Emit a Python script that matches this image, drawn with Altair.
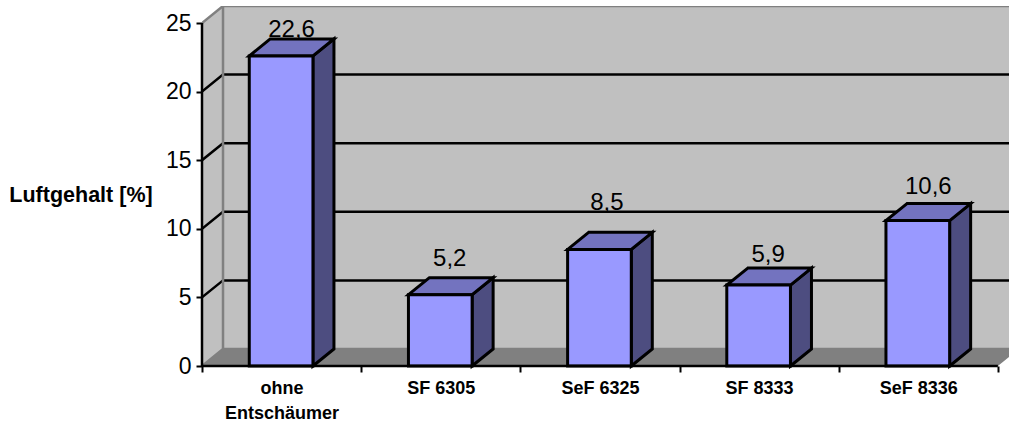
import altair as alt
import pandas as pd

# Measurements per defoamer
categories = ["ohne|Entschäumer", "SF 6305", "SeF 6325", "SF 8333", "SeF 8336"]
values = [22.6, 5.2, 8.5, 5.9, 10.6]
y_ticks = [0, 5, 10, 15, 20, 25]
x_ticks = [0, 1, 2, 3, 4, 5]

# Pseudo-3D projection, expressed in scale units
DEPTH_X = 0.132
DEPTH_Y = 1.24
BAR_LEFT = 0.297
BAR_WIDTH = 0.40
X_MAX = 5.07
X_OVER = 5.2
Y_MAX = 26.24

# Per-label pixel nudges so the numbers clear the bars
LABEL_DX = [0, -1, -3, -1, 0]
LABEL_DY = [-2, -12, -22, -6, -10]

x_scale = alt.Scale(domain=[0, X_MAX], nice=False, zero=False)
y_scale = alt.Scale(domain=[0, Y_MAX], nice=False, zero=False)
X = alt.X("x:Q", scale=x_scale, axis=None)
Y = alt.Y("y:Q", scale=y_scale, axis=None)

# Side wall and back wall
walls = pd.DataFrame(
    [
        {"x": 0, "y": 0, "y2": 25},
        {"x": DEPTH_X, "y": DEPTH_Y, "y2": 25 + DEPTH_Y},
        {"x": X_MAX, "y": DEPTH_Y, "y2": 25 + DEPTH_Y},
    ]
)
wall_layer = (
    alt.Chart(walls)
    .mark_area(color="#C0C0C0", clip=True)
    .encode(x=X, y=Y, y2="y2:Q")
)

# Floor
floor = pd.DataFrame(
    [
        {"y": 0, "x": 0, "x2": 5},
        {"y": DEPTH_Y, "x": DEPTH_X, "x2": 5 + DEPTH_X},
    ]
)
floor_layer = (
    alt.Chart(floor)
    .mark_area(color="#808080", orient="horizontal", clip=True)
    .encode(x=X, x2="x2:Q", y=Y)
)

# Grid lines run up the side wall and along the back wall
grid_rows = []
for v in y_ticks[1:-1]:
    grid_rows += [
        {"v": v, "x": 0, "y": v},
        {"v": v, "x": DEPTH_X, "y": v + DEPTH_Y},
        {"v": v, "x": X_OVER, "y": v + DEPTH_Y},
    ]
grid_layer = (
    alt.Chart(pd.DataFrame(grid_rows))
    .mark_line(color="black", strokeWidth=2.5, clip=True)
    .encode(x=X, y=Y, detail="v:N")
)

# Grey wall edges
edges = pd.DataFrame(
    [
        {"e": "a", "k": 0, "x": 0, "y": 25},
        {"e": "a", "k": 1, "x": DEPTH_X, "y": 25 + DEPTH_Y},
        {"e": "a", "k": 2, "x": X_OVER, "y": 25 + DEPTH_Y},
        {"e": "b", "k": 0, "x": DEPTH_X, "y": 25 + DEPTH_Y},
        {"e": "b", "k": 1, "x": DEPTH_X, "y": DEPTH_Y},
        {"e": "b", "k": 2, "x": 0, "y": 0},
        {"e": "c", "k": 0, "x": DEPTH_X, "y": DEPTH_Y},
        {"e": "c", "k": 1, "x": X_OVER, "y": DEPTH_Y},
    ]
)
edge_layer = (
    alt.Chart(edges)
    .mark_line(color="#808080", strokeWidth=2.5, clip=True)
    .encode(x=X, y=Y, detail="e:N", order="k:Q")
)

# Value labels, in the German number format
label_layers = [
    alt.Chart(
        pd.DataFrame(
            {
                "x": [i + BAR_LEFT + BAR_WIDTH / 2 + DEPTH_X / 2],
                "y": [v + DEPTH_Y],
                "t": [f"{v:.1f}".replace(".", ",")],
            }
        )
    )
    .mark_text(
        font="Liberation Sans",
        fontSize=24,
        color="black",
        baseline="alphabetic",
        dx=LABEL_DX[i],
        dy=LABEL_DY[i],
    )
    .encode(x=X, y=Y, text="t:N")
    for i, v in enumerate(values)
]

# Bars: front, side and top faces
front_rows, side_rows, top_rows = [], [], []
for i, v in enumerate(values):
    left = i + BAR_LEFT
    right = left + BAR_WIDTH
    front_rows.append({"x": left, "x2": right, "y": 0, "y2": v})
    side_rows += [
        {"i": i, "x": right, "y": 0, "y2": v},
        {"i": i, "x": right + DEPTH_X, "y": DEPTH_Y, "y2": v + DEPTH_Y},
    ]
    top_rows += [
        {"i": i, "y": v, "x": left, "x2": right},
        {"i": i, "y": v + DEPTH_Y, "x": left + DEPTH_X, "x2": right + DEPTH_X},
    ]
outline = {"stroke": "black", "strokeWidth": 3, "strokeJoin": "miter"}
side_layer = (
    alt.Chart(pd.DataFrame(side_rows))
    .mark_area(color="#4D4D80", **outline)
    .encode(x=X, y=Y, y2="y2:Q", detail="i:N")
)
top_layer = (
    alt.Chart(pd.DataFrame(top_rows))
    .mark_area(color="#7373BF", orient="horizontal", **outline)
    .encode(x=X, x2="x2:Q", y=Y, detail="i:N")
)
front_layer = (
    alt.Chart(pd.DataFrame(front_rows))
    .mark_rect(color="#9999FF", **outline)
    .encode(x=X, x2="x2:Q", y=Y, y2="y2:Q")
)

# Black axis lines
axis_lines = pd.DataFrame(
    [
        {"a": "y", "x": 0, "y": 0},
        {"a": "y", "x": 0, "y": 25},
        {"a": "x", "x": 0, "y": 0},
        {"a": "x", "x": 5, "y": 0},
    ]
)
axis_line_layer = (
    alt.Chart(axis_lines)
    .mark_line(color="black", strokeWidth=2.5)
    .encode(x=X, y=Y, detail="a:N")
)

# Axes: ticks and numeric labels on y, ticks on x, category names below
names = ",".join(f"'{c}'" for c in categories)
label_expr = f"split([{names}][floor(datum.value)], '|')"
axis_layer = (
    alt.Chart(pd.DataFrame({"x": [0], "y": [0]}))
    .mark_point(opacity=0)
    .encode(
        x=alt.X(
            "x:Q",
            scale=x_scale,
            axis=alt.Axis(
                orient="bottom",
                values=x_ticks,
                labels=False,
                domain=False,
                grid=False,
                title=None,
                tickColor="black",
                tickWidth=2,
                tickSize=6,
            ),
        ),
        y=alt.Y(
            "y:Q",
            scale=y_scale,
            axis=alt.Axis(
                orient="left",
                values=y_ticks,
                domain=False,
                grid=False,
                tickColor="black",
                tickWidth=2,
                tickSize=6,
                labelFont="Liberation Sans",
                labelFontSize=23,
                labelColor="black",
                labelPadding=5,
                title="Luftgehalt [%]",
                titleAngle=0,
                titleFont="Liberation Sans",
                titleFontSize=21.5,
                titleFontWeight="bold",
                titleColor="black",
                titleX=-121.5,
                titleY=189,
                titleAlign="center",
                titleBaseline="middle",
            ),
        ),
    )
)
category_layer = (
    alt.Chart(pd.DataFrame({"x": [0.5], "y": [0]}))
    .mark_point(opacity=0)
    .encode(
        x=alt.X(
            "x:Q",
            scale=x_scale,
            axis=alt.Axis(
                orient="bottom",
                values=[i + 0.5 for i in range(len(categories))],
                labelExpr=label_expr,
                domain=False,
                grid=False,
                ticks=False,
                title=None,
                labelFont="Liberation Sans",
                labelFontSize=18,
                labelFontWeight="bold",
                labelColor="black",
                labelPadding=13,
                labelLineHeight=25,
                labelOverlap=False,
                labelFlush=False,
            ),
        ),
        y=Y,
    )
)

chart = (
    alt.layer(
        wall_layer,
        floor_layer,
        grid_layer,
        edge_layer,
        *label_layers,
        side_layer,
        top_layer,
        front_layer,
        axis_line_layer,
        axis_layer,
        category_layer,
    )
    .resolve_axis(x="independent", y="independent")
    .properties(
        width=807,
        height=360,
        padding={"left": 202, "top": 6, "right": 0, "bottom": 57},
        autosize=alt.AutoSizeParams(type="none"),
        background="white",
    )
    .configure_view(stroke=None)
)

chart.save("out.html", embed_options={"renderer": "svg", "actions": False})
